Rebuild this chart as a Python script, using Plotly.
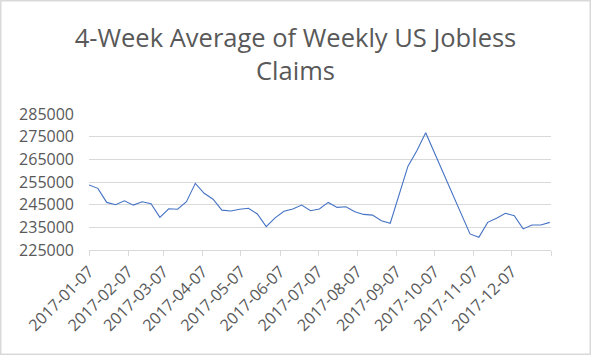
import plotly.graph_objects as go
import pandas as pd

start_date = "2017-01-07"
claims_4wk_avg = [
    253700, 252200, 246000, 245000, 246700, 244800, 246300, 245400, 239400, 243200,
    243000, 246300, 254400, 250000, 247400, 242600, 242200, 243000, 243400, 240900,
    235300, 239200, 242100, 243100, 244800, 242300, 243100, 246000, 243800, 244100,
    241900, 240700, 240400, 237900, 236800, 249400, 262000, 268800, 276700, 267800,
    258800, 249900, 241000, 232100, 230600, 237200, 239000, 241200, 240100, 234300,
    236000, 236000, 237200,
]
dates = pd.date_range(start_date, periods=len(claims_4wk_avg), freq="7D")

x_tick_vals = [
    "2017-01-07", "2017-02-07", "2017-03-07", "2017-04-07", "2017-05-07", "2017-06-07",
    "2017-07-07", "2017-08-07", "2017-09-07", "2017-10-07", "2017-11-07", "2017-12-07",
    "2018-01-07",
]
x_tick_text = x_tick_vals[:-1] + [""]
y_tick_vals = [225000, 235000, 245000, 255000, 265000, 275000, 285000]

title_text = "4-Week Average of Weekly US Jobless<br>Claims"

W, H = 591, 355
L, R, T, B = 89, 40, 114, 105
pw, ph = W - L - R, H - T - B

fig = go.Figure()
fig.add_trace(go.Scatter(
    x=dates, y=claims_4wk_avg, mode="lines",
    line=dict(color="#4472C4", width=1.1),
    hoverinfo="x+y", showlegend=False,
))

font_family = "Open Sans, Liberation Sans, sans-serif"
fig.update_layout(
    width=W, height=H,
    margin=dict(l=L, r=R, t=T, b=B, pad=0),
    paper_bgcolor="white", plot_bgcolor="white",
    title=dict(
        text=title_text, x=0.5, xref="container", xanchor="center",
        y=1 - 47 / H, yref="container", yanchor="top",
        font=dict(family=font_family, size=25.5, color="#595959"),
    ),
    xaxis=dict(
        type="date",
        range=[x_tick_vals[0], x_tick_vals[-1]],
        tickmode="array", tickvals=x_tick_vals, ticktext=x_tick_text,
        tickangle=-45,
        ticks="outside", ticklen=5, tickcolor="#d9d9d9", tickwidth=1,
        showline=True, linecolor="#d9d9d9", linewidth=1,
        showgrid=False, zeroline=False,
        tickfont=dict(family=font_family, size=16, color="#595959"),
    ),
    yaxis=dict(
        range=[y_tick_vals[0], y_tick_vals[-1]],
        tickmode="array", tickvals=y_tick_vals,
        ticktext=[str(v) for v in y_tick_vals],
        showgrid=True, gridcolor="#d9d9d9", gridwidth=1,
        showline=False, zeroline=False, ticks="",
        ticklabelstandoff=14,
        tickfont=dict(family=font_family, size=16, color="#595959"),
    ),
    shapes=[dict(
        type="rect", xref="paper", yref="paper",
        x0=-(L - 0.75) / pw, x1=1 + (R - 0.75) / pw,
        y0=-(B - 0.75) / ph, y1=1 + (T - 0.75) / ph,
        line=dict(color="#d9d9d9", width=1.5), fillcolor="rgba(0,0,0,0)",
        layer="below",
    )],
)

fig.write_html("out.html")
